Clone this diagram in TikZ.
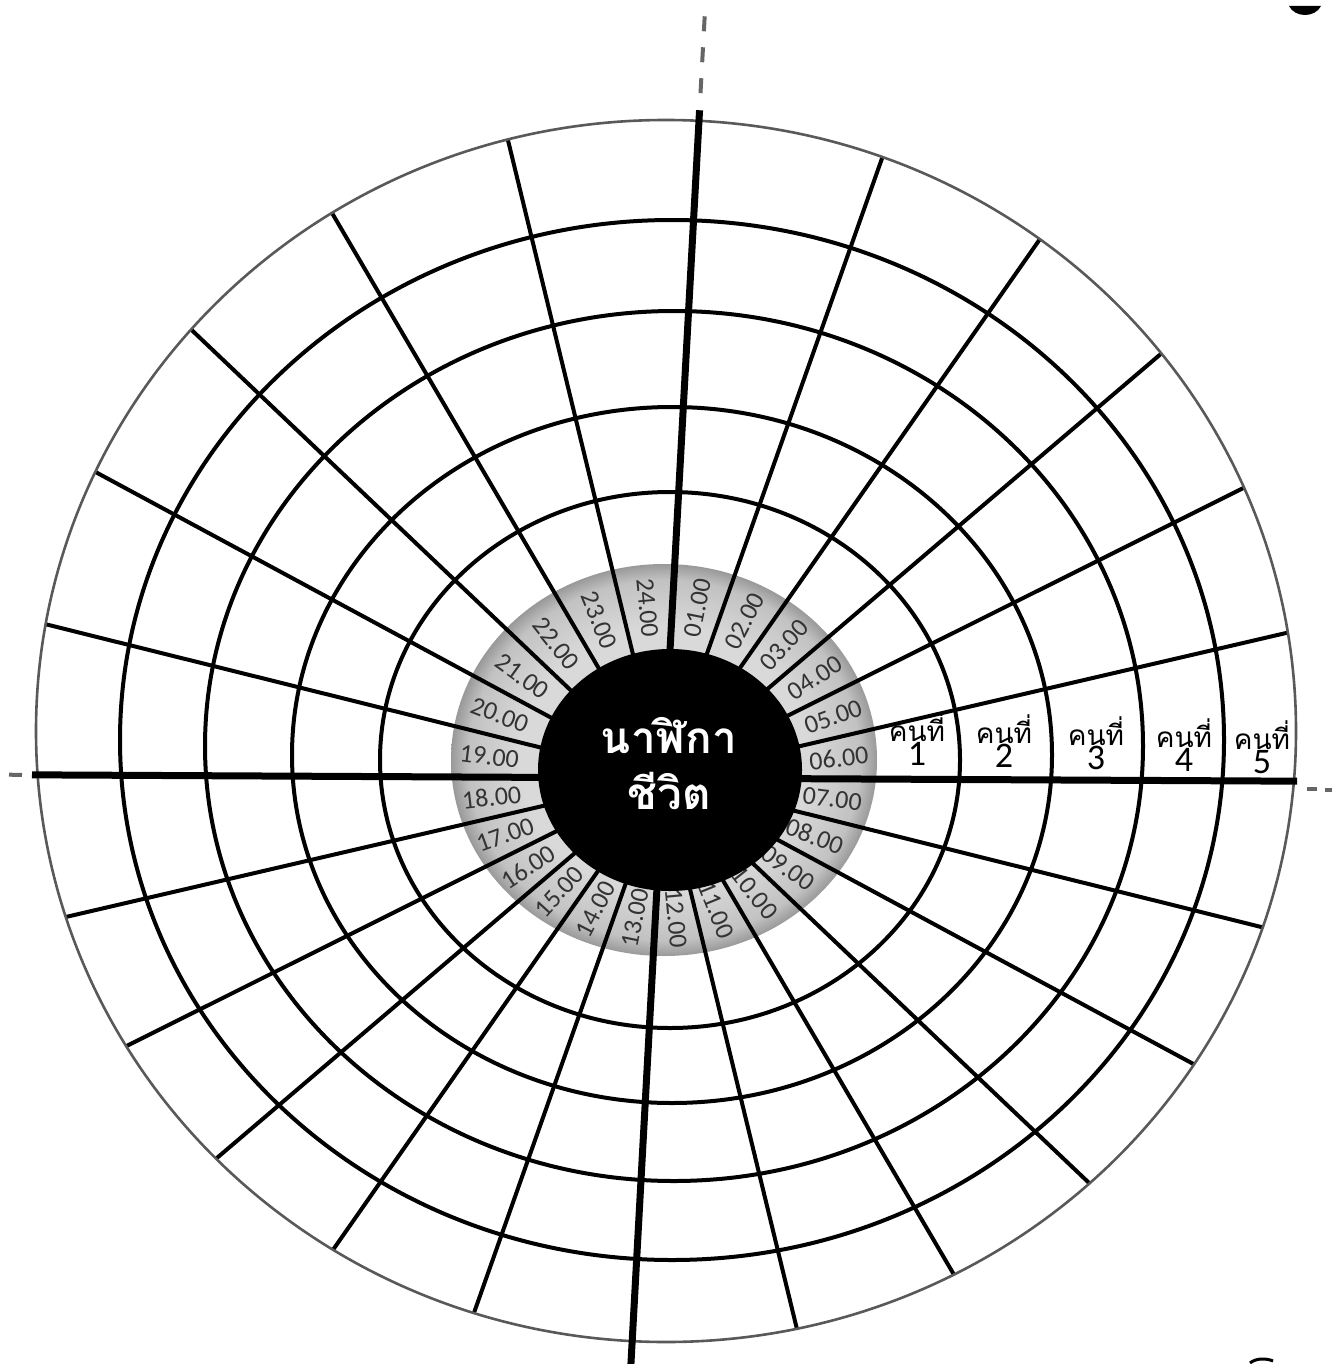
\documentclass[tikz,border=0pt]{standalone}
\usepackage{fontspec}
\newfontfamily\thaifont[Script=Thai]{Loma}
\newfontfamily\hourfont{Carlito}
\usetikzlibrary{calc}
\pgfdeclareradialshading{grayring}{\pgfpoint{0bp}{0bp}}{color(0bp)=(black!15); color(17bp)=(black!15); color(23bp)=(black!24); color(25bp)=(black!40); color(50bp)=(black!40)}
\tikzset{
  ringline/.style={black, line width=2pt},
  outerline/.style={black!65, line width=1.3pt},
  spoke/.style={black, line width=2pt},
  mainspoke/.style={black, line width=3.5pt},
  guidedash/.style={black!60, line width=2pt, dash pattern=on 7.5pt off 8pt},
  hourlabel/.style={font=\hourfont\fontsize{13}{13}\selectfont, text=black!80, inner sep=0pt},
  personlabel/.style={align=center, inner sep=0pt, font=\thaifont\fontsize{14}{16}\selectfont},
  clocktext/.style={text=white, align=center, inner sep=0pt, font=\thaifont\bfseries\fontsize{22}{28}\selectfont},
  local/.style={shift={(663,778)}, x=0.5pt, y=0.5pt, cm={1,-0.005,0.0492,0.8987,(0,0)}}
}

\begin{document}
\begin{tikzpicture}[x=0.5pt, y=-0.5pt]
  \useasboundingbox (0,0) rectangle (1337,1364);
  % gray hour ring
  \shade[shading=grayring] (664,760) ellipse [x radius=213, y radius=196];
  % rings for persons 1-5
  \draw[ringline] (670,760) ellipse [x radius=290, y radius=268];
  \draw[ringline] (672,755) ellipse [x radius=380, y radius=348];
  \draw[ringline] (674,746) ellipse [x radius=469, y radius=435];
  \draw[ringline] (672,740) ellipse [x radius=552, y radius=520];
  % spokes, one per hour
  \begin{scope}
    \clip (666,731) ellipse [x radius=630, y radius=611];
    \begin{scope}[local]
      \foreach \k in {0,...,23} {
        \pgfmathtruncatemacro\rest{mod(\k,6)}
        \pgfmathsetmacro\a{15*\k}
        \ifnum\rest>0 \draw[spoke] (0,0) -- (\a:760); \fi
      }
    \end{scope}
  \end{scope}
  \draw[outerline] (666,731) ellipse [x radius=630, y radius=611];
  % main axes
  \begin{scope}[local]
    \draw[mainspoke] (0,743) -- (0,-660);
    \draw[mainspoke] (-631,0) -- (634,0);
    \draw[guidedash] (0,762) -- (0,850);
    \draw[black!60, line width=2pt] (-654,0) -- (-641,0);
  \end{scope}
  \draw[black!60, line width=2pt] (1307,789) -- (1317,789) (1325,790) -- (1332,790);
  % hour labels
  \begin{scope}[local]
    \foreach \h in {1,...,24} {
      \pgfmathsetmacro\ang{97.5-15*\h}
      \pgfmathsetmacro\rad{174+17*sin(\ang)}
      \pgfmathsetmacro\app{atan2(0.8987*sin(\ang)-0.005*cos(\ang), cos(\ang)+0.0492*sin(\ang))}
      \pgfmathsetmacro\rot{\h<13 ? \app : \app+180}
      \node[hourlabel, rotate=\rot] (h\h) at (\ang:\rad) {\ifnum\h<10 0\fi\h.00};
    }
  \end{scope}
  % centre disc
  \fill (670,770) ellipse [x radius=132, y radius=121];
  \node[clocktext] (clock) at (669,764) {นาฬิกา\\ชีวิต};
  % person labels
  \foreach \k/\px/\py in {1/917/739, 2/1004/741, 3/1096/743, 4/1184/745, 5/1262/747}
    \node[personlabel] (p\k) at (\px,\py) {คนที่\\[-4pt]{\hourfont\fontsize{18}{18}\selectfont \k}};
  % bits of the scanned page edge
  \fill (1289,6) .. controls (1295,18) and (1315,18) .. (1321,6) -- cycle;
  \draw[line width=1.5pt] (1250,1363) .. controls (1256,1358) and (1266,1358) .. (1273,1361);
\end{tikzpicture}
\end{document}
